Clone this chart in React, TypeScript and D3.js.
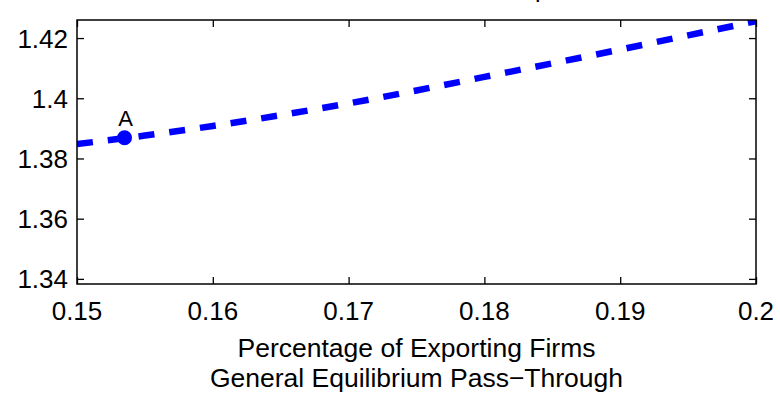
import React, { useEffect, useRef } from 'react';
import * as d3 from 'd3';

// share of exporting firms (x) and general equilibrium pass-through (y)
const exportShare = [0.15, 0.155, 0.16, 0.165, 0.17, 0.175, 0.18, 0.185, 0.19, 0.195, 0.2];
const passThrough = [1.3848, 1.3876, 1.3908, 1.3944, 1.3983, 1.4026, 1.4071, 1.4116, 1.4162, 1.4209, 1.4256];

const pointA = { label: 'A', x: 0.1535, y: 1.3869 };

const xTicks = [0.15, 0.16, 0.17, 0.18, 0.19, 0.2];
const yTicks = [1.34, 1.36, 1.38, 1.4, 1.42];
const xLabels = ['0.15', '0.16', '0.17', '0.18', '0.19', '0.2'];
const yLabels = ['1.34', '1.36', '1.38', '1.4', '1.42'];

const xTitle = ['Percentage of Exporting Firms', 'General Equilibrium Pass\u2212Through'];

export default function App() {
  const svgRef = useRef<SVGSVGElement>(null);
  const width = 780;
  const height = 396;

  useEffect(() => {
    const svg = d3.select(svgRef.current);
    svg.selectAll('*').remove();

    const left = 77, right = 756, top = 20, bottom = 284;
    const font = 'Liberation Sans, Arial, sans-serif';

    const x = d3.scaleLinear().domain([0.15, 0.2]).range([left, right]);
    const y = d3.scaleLinear().domain([1.3383, 1.426]).range([bottom, top]);

    svg.append('rect').attr('width', width).attr('height', height).attr('fill', '#fff');

    // clipped title (only the descender survives the crop)
    svg.append('text')
      .attr('x', 535).attr('y', -3)
      .attr('font-family', font).attr('font-size', 25)
      .text('p');

    const clipId = 'plot-clip';
    svg.append('clipPath').attr('id', clipId)
      .append('rect')
      .attr('x', left).attr('y', top)
      .attr('width', right - left).attr('height', bottom - top);

    const pts = exportShare.map((v, i) => [v, passThrough[i]] as [number, number]);
    const line = d3.line<[number, number]>()
      .x(d => x(d[0]))
      .y(d => y(d[1]))
      .curve(d3.curveMonotoneX);

    svg.append('path')
      .attr('d', line(pts))
      .attr('fill', 'none')
      .attr('stroke', '#0000ff')
      .attr('stroke-width', 6.5)
      .attr('stroke-dasharray', '16,15')
      .attr('clip-path', `url(#${clipId})`);

    svg.append('circle')
      .attr('cx', x(pointA.x)).attr('cy', y(pointA.y))
      .attr('r', 7.5).attr('fill', '#0000ff');

    svg.append('text')
      .attr('x', x(pointA.x) + 1).attr('y', y(pointA.y) - 12)
      .attr('text-anchor', 'middle')
      .attr('font-family', font).attr('font-size', 22)
      .text(pointA.label);

    // axes, ticks inward on all four sides
    const tickLen = 7;
    const axisStyle = (g: any) => {
      g.select('.domain').remove();
      g.selectAll('line').attr('stroke', '#000').attr('stroke-width', 1.3);
      g.selectAll('text').remove();
    };

    svg.append('g').attr('transform', `translate(0,${bottom})`)
      .call(d3.axisTop(x).tickValues(xTicks).tickSize(tickLen)).call(axisStyle);
    svg.append('g').attr('transform', `translate(0,${top})`)
      .call(d3.axisBottom(x).tickValues(xTicks).tickSize(tickLen)).call(axisStyle);
    svg.append('g').attr('transform', `translate(${left},0)`)
      .call(d3.axisRight(y).tickValues(yTicks).tickSize(tickLen)).call(axisStyle);
    svg.append('g').attr('transform', `translate(${right},0)`)
      .call(d3.axisLeft(y).tickValues(yTicks).tickSize(tickLen)).call(axisStyle);

    svg.append('rect')
      .attr('x', left).attr('y', top)
      .attr('width', right - left).attr('height', bottom - top)
      .attr('fill', 'none').attr('stroke', '#000').attr('stroke-width', 1.5);

    svg.append('g').selectAll('text')
      .data(xTicks)
      .enter()
      .append('text')
      .attr('x', d => x(d))
      .attr('y', 320)
      .attr('text-anchor', 'middle')
      .attr('font-family', font).attr('font-size', 26)
      .text((d, i) => xLabels[i]);

    svg.append('g').selectAll('text')
      .data(yTicks)
      .enter()
      .append('text')
      .attr('x', 68)
      .attr('y', d => y(d) + 9.5)
      .attr('text-anchor', 'end')
      .attr('font-family', font).attr('font-size', 26)
      .text((d, i) => yLabels[i]);

    svg.append('g').selectAll('text')
      .data(xTitle)
      .enter()
      .append('text')
      .attr('x', (left + right) / 2)
      .attr('y', (d, i) => 357 + i * 30)
      .attr('text-anchor', 'middle')
      .attr('font-family', font).attr('font-size', 26.5)
      .text(d => d);
  }, []);

  return (
    <svg
      ref={svgRef}
      width={width}
      height={height}
      style={{ position: 'absolute', left: 0, top: 0 }}
    />
  );
}
